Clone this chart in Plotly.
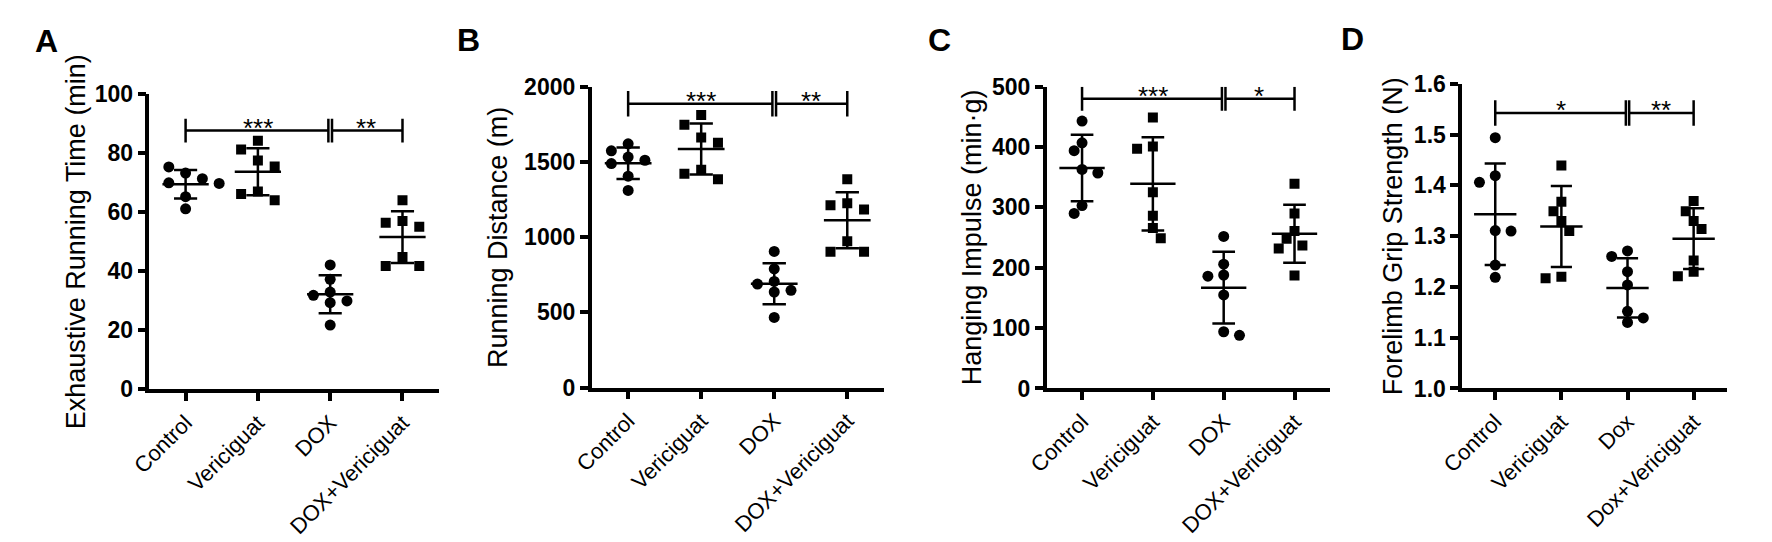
import plotly.graph_objects as go
import numpy as np

# group names
groups_upper = ["Control", "Vericiguat", "DOX", "DOX+Vericiguat"]
groups_lower = ["Control", "Vericiguat", "Dox", "Dox+Vericiguat"]

# A - exhaustive running time (min)
time_control = [73.3, 75.4, 71.4, 70.0, 69.8, 65.3, 61.2]
time_vericiguat = [84.3, 81.3, 77.6, 75.5, 67.1, 66.2, 64.1]
time_dox = [42.2, 37.3, 33.0, 31.9, 30.0, 29.4, 21.8]
time_dox_veri = [64.1, 57.1, 56.5, 55.1, 44.9, 41.8, 41.8]

# B - running distance (m)
distance_control = [1620, 1574, 1532, 1511, 1489, 1405, 1310]
distance_vericiguat = [1812, 1747, 1662, 1627, 1447, 1422, 1384]
distance_dox = [905, 789, 705, 688, 646, 635, 466]
distance_dox_veri = [1384, 1225, 1211, 1184, 972, 903, 903]

# C - hanging impulse (min*g)
impulse_control = [443, 407, 394, 363, 357, 303, 290]
impulse_vericiguat = [449, 401, 397, 325, 286, 266, 249]
impulse_dox = [252, 206, 188, 186, 155, 94, 88]
impulse_dox_veri = [339, 290, 261, 248, 237, 232, 187]

# D - forelimb grip strength (N)
grip_control = [1.494, 1.419, 1.406, 1.311, 1.310, 1.243, 1.219]
grip_vericiguat = [1.439, 1.368, 1.349, 1.330, 1.310, 1.220, 1.217]
grip_dox = [1.271, 1.260, 1.230, 1.204, 1.152, 1.139, 1.130]
grip_dox_veri = [1.369, 1.349, 1.330, 1.314, 1.252, 1.230, 1.221]

# significance labels (Control vs DOX, DOX vs DOX+Vericiguat)
stars_A = ["***", "**"]
stars_B = ["***", "**"]
stars_C = ["***", "*"]
stars_D = ["*", "**"]

W, H = 1772, 542
FONT = "Liberation Sans, Arial, sans-serif"
symbols = ["circle", "square", "circle", "square"]

panels = [
    dict(letter="A", data=[time_control, time_vericiguat, time_dox, time_dox_veri],
         labels=groups_upper, title="Exhaustive Running Time (min)",
         yrange=[0, 100], dtick=20, fmt="d", box=(120, 413, 77, 387),
         sig=(87.7, 4.0), stars=stars_A, letter_xy=(16, 21), title_x=45, step=17),
    dict(letter="B", data=[distance_control, distance_vericiguat, distance_dox, distance_dox_veri],
         labels=groups_upper, title="Running Distance (m)",
         yrange=[0, 2000], dtick=500, fmt="d", box=(568, 864, 69, 385),
         sig=(1886, 85), stars=stars_B, letter_xy=(443, 20), title_x=473, step=17),
    dict(letter="C", data=[impulse_control, impulse_vericiguat, impulse_dox, impulse_dox_veri],
         labels=groups_upper, title="Hanging Impulse (min·g)",
         yrange=[0, 500], dtick=100, fmt="d", box=(1029, 1316, 69, 386),
         sig=(480, 20), stars=stars_C, letter_xy=(920, 20), title_x=953, step=8),
    dict(letter="D", data=[grip_control, grip_vericiguat, grip_dox, grip_dox_veri],
         labels=groups_lower, title="Forelimb Grip Strength (N)",
         yrange=[1.0, 1.6], dtick=0.1, fmt=".1f", box=(1450, 1718, 66, 386),
         sig=(1.5425, 0.025), stars=stars_D, letter_xy=(1339, 19), title_x=1380, step=8),
]


def swarm(vals, unit_px, step_px, diam_px=11):
    # simple beeswarm: push overlapping points sideways
    placed, out, side = [], [], -1
    for v in vals:
        y = v * unit_px
        cands = [0]
        for k in (1, 2, 3):
            cands += [side * k * step_px, -side * k * step_px]
        for c in cands:
            if all((c - px) ** 2 + (y - py) ** 2 >= diam_px ** 2 for px, py in placed):
                break
        if c != 0:
            side = -int(np.sign(c))
        placed.append((c, y))
        out.append(c)
    return np.array(out)


fig = go.Figure()
annotations = []

for n, p in enumerate(panels):
    ax = "" if n == 0 else str(n + 1)
    x0, x1, y0, y1 = p["box"]
    cat_px = (x1 - x0) / 4
    unit_px = (y1 - y0) / (p["yrange"][1] - p["yrange"][0])

    err_x, err_y = [], []
    for i, vals in enumerate(p["data"]):
        vals = np.array(vals, dtype=float)
        offs = swarm(vals, unit_px, p["step"]) / cat_px
        fig.add_trace(go.Scatter(
            x=i + offs, y=vals, mode="markers", xaxis="x" + ax, yaxis="y" + ax,
            marker=dict(symbol=symbols[i], size=11 if symbols[i] == "circle" else 10,
                        color="black", line=dict(width=0)),
            showlegend=False, hoverinfo="skip"))
        m, sd = vals.mean(), vals.std(ddof=1)
        err_x += [i - 0.32, i + 0.32, None, i, i, None,
                  i - 0.16, i + 0.16, None, i - 0.16, i + 0.16, None]
        err_y += [m, m, None, m - sd, m + sd, None,
                  m - sd, m - sd, None, m + sd, m + sd, None]
    fig.add_trace(go.Scatter(x=err_x, y=err_y, mode="lines", xaxis="x" + ax, yaxis="y" + ax,
                             line=dict(color="black", width=2.5),
                             showlegend=False, hoverinfo="skip"))

    # significance bracket with split at DOX
    lvl, hh = p["sig"]
    sx = [0, 1.975, None, 2.025, 3, None,
          0, 0, None, 1.975, 1.975, None, 2.025, 2.025, None, 3, 3]
    sy = [lvl, lvl, None, lvl, lvl, None,
          lvl - hh, lvl + hh, None, lvl - hh, lvl + hh, None,
          lvl - hh, lvl + hh, None, lvl - hh, lvl + hh]
    fig.add_trace(go.Scatter(x=sx, y=sy, mode="lines", xaxis="x" + ax, yaxis="y" + ax,
                             line=dict(color="black", width=2.5),
                             showlegend=False, hoverinfo="skip"))
    for sxp, st in zip([1, 2.5], p["stars"]):
        annotations.append(dict(x=sxp, y=lvl, xref="x" + ax, yref="y" + ax, text=st,
                                showarrow=False, yanchor="middle", yshift=3,
                                font=dict(family=FONT, size=26, color="black")))

    axis_common = dict(showline=True, linecolor="black", linewidth=3.5, ticks="outside",
                       ticklen=8, tickwidth=3.5, tickcolor="black",
                       showgrid=False, zeroline=False)
    fig.update_layout(**{
        "xaxis" + ax: dict(axis_common, domain=[x0 / W, x1 / W], range=[-0.5, 3.5],
                           anchor="y" + ax, tickvals=[0, 1, 2, 3], ticktext=p["labels"],
                           tickangle=-45,
                           tickfont=dict(family=FONT, size=22, color="black")),
        "yaxis" + ax: dict(axis_common, domain=[1 - y1 / H, 1 - y0 / H], range=p["yrange"],
                           anchor="x" + ax, dtick=p["dtick"], tick0=p["yrange"][0],
                           tickformat=p["fmt"],
                           tickfont=dict(family=FONT, size=23, color="black", weight="bold")),
    })

    annotations.append(dict(x=p["letter_xy"][0] / W, y=1 - p["letter_xy"][1] / H,
                            xref="paper", yref="paper", text="<b>" + p["letter"] + "</b>",
                            showarrow=False, xanchor="center", yanchor="middle",
                            font=dict(family=FONT, size=32, color="black")))
    annotations.append(dict(x=p["title_x"] / W, y=1 - (y0 + y1) / 2 / H,
                            xref="paper", yref="paper", text=p["title"], textangle=-90,
                            showarrow=False, xanchor="center", yanchor="middle",
                            font=dict(family=FONT, size=27, color="black")))

fig.update_layout(width=W, height=H, margin=dict(l=0, r=0, t=0, b=0),
                  plot_bgcolor="white", paper_bgcolor="white",
                  annotations=annotations)

fig.write_html("out.html")
